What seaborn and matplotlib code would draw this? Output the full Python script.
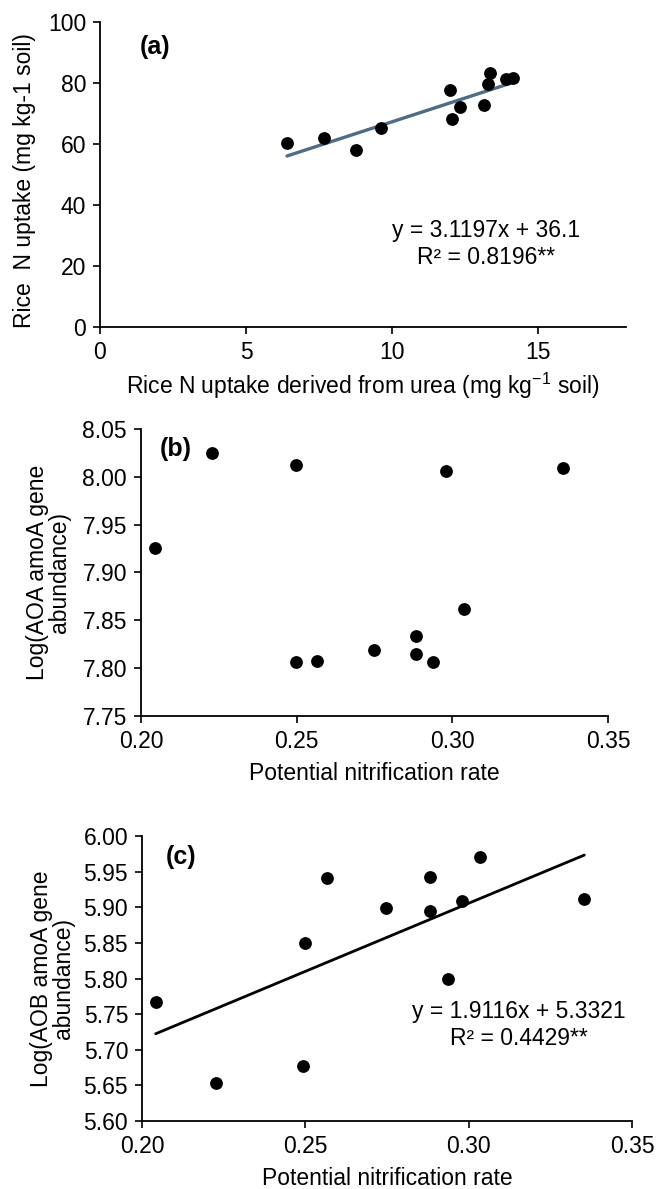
import numpy as np
import pandas as pd
import matplotlib
matplotlib.use("Agg")
import matplotlib.pyplot as plt
import seaborn as sns

# ---------------- data ----------------
# Panel (a)
urea_n_uptake = [6.40, 7.67, 8.77, 9.61, 11.97, 12.04, 12.31, 13.13, 13.27, 13.34, 13.91, 14.14]
rice_n_uptake = [60.4, 61.9, 58.1, 65.1, 77.8, 68.3, 72.0, 72.9, 79.6, 83.3, 81.3, 81.8]
fit_a = [3.1197, 36.1]  # slope, intercept

# Panel (b) and (c)
pnr = [0.2044, 0.2229, 0.2497, 0.2499, 0.2565, 0.2747, 0.2883, 0.2882, 0.2938, 0.2979, 0.3036, 0.3355]
log_aoa = [7.926, 8.025, 8.012, 7.806, 7.807, 7.819, 7.834, 7.815, 7.806, 8.006, 7.862, 8.009]

pnr_c = [0.2042, 0.2228, 0.2493, 0.2498, 0.2566, 0.2748, 0.2883, 0.2882, 0.2936, 0.2979, 0.3036, 0.3354]
log_aob = [5.767, 5.653, 5.677, 5.850, 5.941, 5.899, 5.943, 5.895, 5.799, 5.909, 5.971, 5.911]
fit_c = [1.9116, 5.3321]

xticks_a = [0, 5, 10, 15]
yticks_a = [0, 20, 40, 60, 80, 100]
xticks_bc = [0.20, 0.25, 0.30, 0.35]
yticks_b = [7.75, 7.80, 7.85, 7.90, 7.95, 8.00, 8.05]
yticks_c = [5.60, 5.65, 5.70, 5.75, 5.80, 5.85, 5.90, 5.95, 6.00]

# ---------------- style ----------------
sns.set_style("ticks")
plt.rcParams['font.family'] = ['Liberation Sans', 'DejaVu Sans']
plt.rcParams['mathtext.fontset'] = 'custom'
plt.rcParams['mathtext.rm'] = 'Liberation Sans'
plt.rcParams['mathtext.it'] = 'Liberation Sans:italic'
for k in ['text.color', 'axes.labelcolor', 'xtick.color', 'ytick.color', 'axes.edgecolor']:
    plt.rcParams[k] = 'black'

FS = 16.5
W, H = 657, 1189
fig = plt.figure(figsize=(W / 100, H / 100), dpi=100)

def px_axes(l, r, t, b):
    return fig.add_axes([l / W, 1 - b / H, (r - l) / W, (b - t) / H])

ax_a = px_axes(100, 626, 22, 327)
ax_b = px_axes(141, 608, 429, 716)
ax_c = px_axes(142, 632, 836, 1121)

def style(ax):
    sns.despine(ax=ax)
    for s in ['left', 'bottom']:
        ax.spines[s].set_linewidth(1.3)
        ax.spines[s].set_color('black')
    ax.tick_params(direction='out', length=5, width=1.2, labelsize=FS, colors='black', pad=5)

# Panel (a)
df_a = pd.DataFrame({'x': urea_n_uptake, 'y': rice_n_uptake})
sns.scatterplot(data=df_a, x='x', y='y', ax=ax_a, color='black', s=85, linewidth=0, zorder=3)
xl = np.array([min(urea_n_uptake), max(urea_n_uptake)])
sns.lineplot(x=xl, y=fit_a[0] * xl + fit_a[1], ax=ax_a, color='#4F6B87', linewidth=2.4, zorder=2)
ax_a.set_xlim(0, 18)
ax_a.set_ylim(0, 100)
ax_a.set_xticks(xticks_a)
ax_a.set_yticks(yticks_a)
style(ax_a)
ax_a.set_ylabel('Rice  N uptake (mg kg-1 soil)', fontsize=FS)
ax_a.set_xlabel('Rice N uptake derived from urea (mg kg$^{-1}$ soil)', fontsize=FS)
ax_a.yaxis.set_label_coords(-0.122, 0.48)
ax_a.xaxis.set_label_coords(0.5, -0.145)
ax_a.text(0.105, 0.918, '(a)', transform=ax_a.transAxes, fontsize=18, fontweight='bold',
          ha='center', va='center')
ax_a.text(0.734, 0.272, 'y = 3.1197x + 36.1\nR² = 0.8196**', transform=ax_a.transAxes,
          fontsize=FS, ha='center', va='center', multialignment='center', linespacing=1.2)

# Panel (b)
df_b = pd.DataFrame({'x': pnr, 'y': log_aoa})
sns.scatterplot(data=df_b, x='x', y='y', ax=ax_b, color='black', s=85, linewidth=0, zorder=3)
ax_b.set_xlim(0.20, 0.35)
ax_b.set_ylim(7.75, 8.05)
ax_b.set_xticks(xticks_bc)
ax_b.set_yticks(yticks_b)
ax_b.set_xticklabels([f'{v:.2f}' for v in xticks_bc])
ax_b.set_yticklabels([f'{v:.2f}' for v in yticks_b])
style(ax_b)
ax_b.set_ylabel('Log(AOA amoA gene\nabundance)', fontsize=FS, linespacing=0.95)
ax_b.set_xlabel('Potential nitrification rate', fontsize=FS)
ax_b.yaxis.set_label_coords(-0.15, 0.5)
ax_b.xaxis.set_label_coords(0.5, -0.16)
ax_b.text(0.075, 0.93, '(b)', transform=ax_b.transAxes, fontsize=18, fontweight='bold',
          ha='center', va='center')

# Panel (c)
df_c = pd.DataFrame({'x': pnr_c, 'y': log_aob})
sns.scatterplot(data=df_c, x='x', y='y', ax=ax_c, color='black', s=85, linewidth=0, zorder=3)
xc = np.array([min(pnr_c), max(pnr_c)])
sns.lineplot(x=xc, y=fit_c[0] * xc + fit_c[1], ax=ax_c, color='black', linewidth=2.0, zorder=2)
ax_c.set_xlim(0.20, 0.35)
ax_c.set_ylim(5.60, 6.00)
ax_c.set_xticks(xticks_bc)
ax_c.set_yticks(yticks_c)
ax_c.set_xticklabels([f'{v:.2f}' for v in xticks_bc])
ax_c.set_yticklabels([f'{v:.2f}' for v in yticks_c])
style(ax_c)
ax_c.set_ylabel('Log(AOB amoA gene\nabundance)', fontsize=FS, linespacing=0.95)
ax_c.set_xlabel('Potential nitrification rate', fontsize=FS)
ax_c.yaxis.set_label_coords(-0.137, 0.5)
ax_c.xaxis.set_label_coords(0.5, -0.16)
ax_c.text(0.08, 0.926, '(c)', transform=ax_c.transAxes, fontsize=18, fontweight='bold',
          ha='center', va='center')
ax_c.text(0.77, 0.337, 'y = 1.9116x + 5.3321\nR² = 0.4429**', transform=ax_c.transAxes,
          fontsize=FS, ha='center', va='center', multialignment='center', linespacing=1.2)

fig.savefig('out.png', dpi=100, facecolor='white')
